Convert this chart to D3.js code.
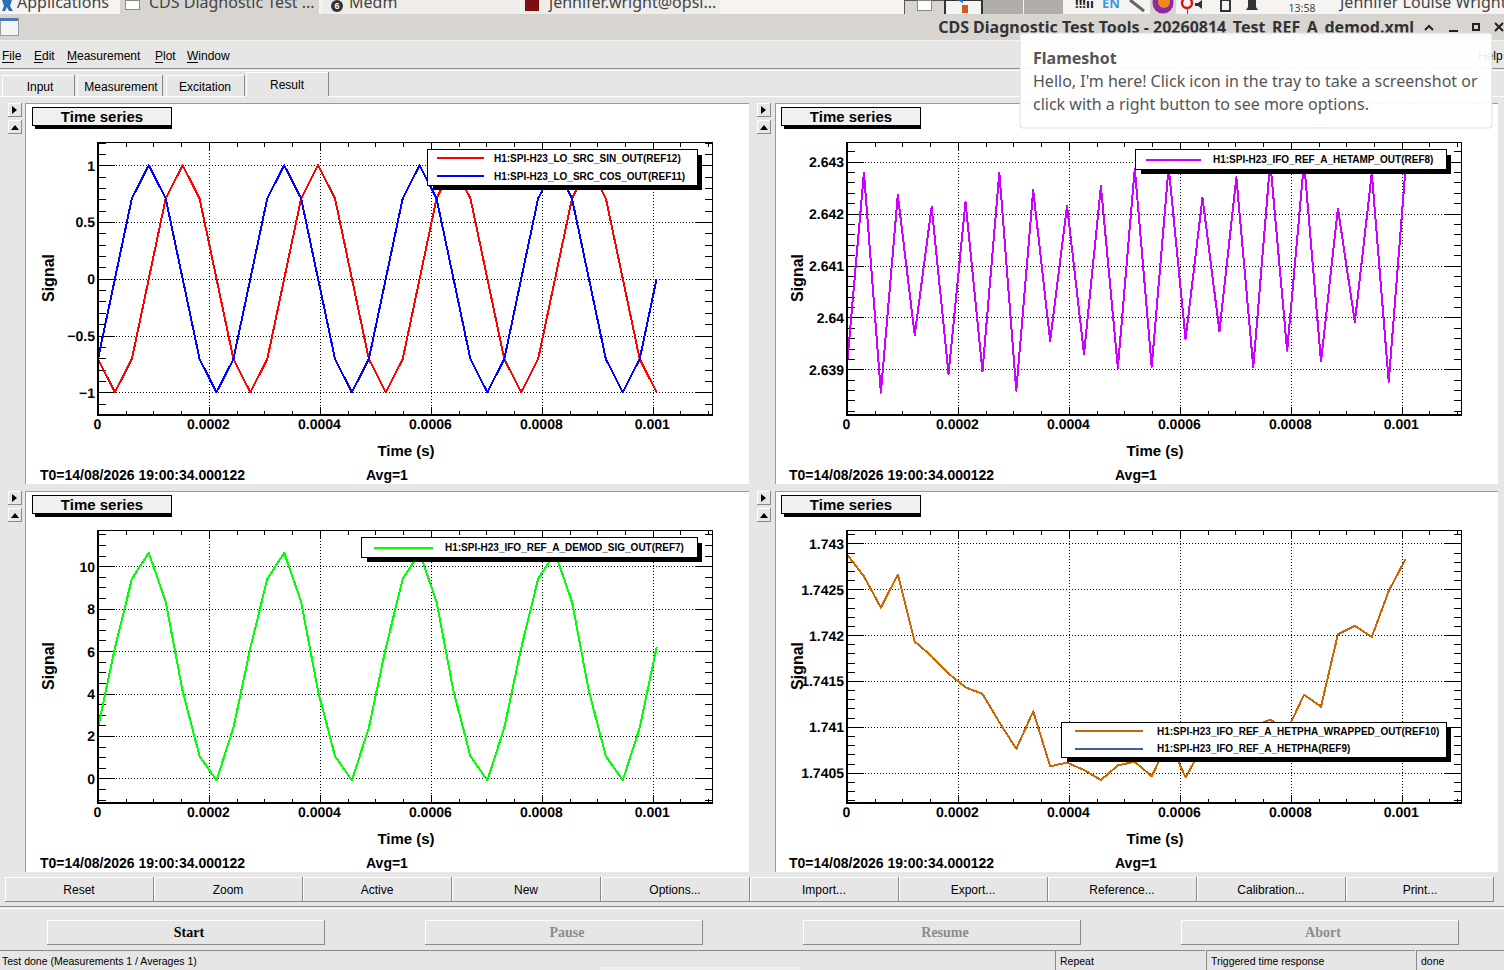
<!DOCTYPE html>
<html><head><meta charset="utf-8">
<script src="https://cdnjs.cloudflare.com/ajax/libs/d3/7.8.5/d3.min.js"></script>
<style>
html,body{margin:0;padding:0;background:#e6e6e6;overflow:hidden}
svg{display:block}
text{font-family:"Liberation Sans",Arial,sans-serif}
.domain{display:none}
</style></head><body><svg id="c" width="1504" height="970"></svg>
<script>
const sinOut=[-0.707,-1,-0.707,0,0.707,1,0.707,0,-0.707,-1,-0.707,0,0.707,1,0.707,0,-0.707,-1,-0.707,0,0.707,1,0.707,0,-0.707,-1,-0.707,0,0.707,1,0.707,0,-0.707,-1];
const cosOut=[-0.707,0,0.707,1,0.707,0,-0.707,-1,-0.707,0,0.707,1,0.707,0,-0.707,-1,-0.707,0,0.707,1,0.707,0,-0.707,-1,-0.707,0,0.707,1,0.707,0,-0.707,-1,-0.707,0];
const hetAmp=[2.63908,2.64279,2.63855,2.64236,2.63966,2.64213,2.63891,2.64223,2.63896,2.64279,2.63859,2.64245,2.63955,2.64215,2.6393,2.64253,2.63903,2.64287,2.63905,2.6429,2.63958,2.64231,2.63973,2.6427,2.63904,2.643,2.63936,2.643,2.63915,2.6421,2.63991,2.64278,2.63876,2.6429];
const demodSig=[2.39,6.15,9.4,10.63,8.32,4.11,1.05,-0.09,2.39,6.15,9.4,10.63,8.32,4.11,1.05,-0.09,2.39,6.15,9.4,10.63,8.32,4.11,1.05,-0.09,2.39,6.15,9.4,10.63,8.32,4.11,1.05,-0.09,2.39,6.18];
const hetPhaWrapped=[1.74288,1.74264,1.7423,1.74266,1.74193,1.74177,1.74158,1.74143,1.74136,1.74105,1.74076,1.74117,1.74057,1.74061,1.74053,1.74042,1.74058,1.74062,1.74046,1.74085,1.74045,1.74078,1.7408,1.7409,1.741,1.74108,1.74096,1.74135,1.74122,1.74201,1.7421,1.74198,1.74248,1.74283];
const hetPha=hetPhaWrapped.slice();
const sampleStep=0.001007/33;
const xTicks=[0,0.0002,0.0004,0.0006,0.0008,0.001];
const xTickLabels=["0","0.0002","0.0004","0.0006","0.0008","0.001"];
const xMinor=[0.00005,0.0001,0.00015,0.00025,0.0003,0.00035,0.00045,0.0005,0.00055,0.00065,0.0007,0.00075,0.00085,0.0009,0.00095,0.00105,0.0011];
const yTicks1=[-1,-0.5,0,0.5,1], yLabels1=["\u22121","\u22120.5","0","0.5","1"];
const yTicks2=[2.639,2.64,2.641,2.642,2.643], yLabels2=["2.639","2.64","2.641","2.642","2.643"];
const yTicks3=[0,2,4,6,8,10], yLabels3=["0","2","4","6","8","10"];
const yTicks4=[1.7405,1.741,1.7415,1.742,1.7425,1.743], yLabels4=["1.7405","1.741","1.7415","1.742","1.7425","1.743"];
const menuItems=["File","Edit","Measurement","Plot","Window"];
const tabs=["Input","Measurement","Excitation","Result"];
const btnLabels=["Reset","Zoom","Active","New","Options...","Import...","Export...","Reference...","Calibration...","Print..."];
const runLabels=["Start","Pause","Resume","Abort"];
const T0="T0=14/08/2026 19:00:34.000122";

const svg=d3.select("#c");
function rect(p,x,y,w,h,f,s,sw){return p.append("rect").attr("x",x).attr("y",y).attr("width",w).attr("height",h).attr("fill",f||"none").attr("stroke",s||"none").attr("stroke-width",sw||1).attr("shape-rendering","crispEdges");}
function text(p,x,y,t,size,o={}){return p.append("text").attr("x",x).attr("y",y).attr("font-size",size).attr("fill",o.fill||"#000").attr("font-weight",o.weight||"normal").attr("text-anchor",o.anchor||"start").style("font-family",o.font||null).text(t);}
function hline(p,x1,x2,y,c){p.append("line").attr("x1",x1).attr("x2",x2).attr("y1",y).attr("y2",y).attr("stroke",c).attr("shape-rendering","crispEdges");}
function vline(p,x,y1,y2,c){p.append("line").attr("x1",x).attr("x2",x).attr("y1",y1).attr("y2",y2).attr("stroke",c).attr("shape-rendering","crispEdges");}
function bevel(p,x,y,w,h){rect(p,x,y,w,h,"#e6e6e6");hline(p,x,x+w,y+.5,"#fff");vline(p,x+.5,y,y+h,"#fff");hline(p,x,x+w,y+h-.5,"#8a8a8a");vline(p,x+w-.5,y,y+h,"#8a8a8a");}

/* desktop chrome */
rect(svg,0,0,1504,14,"#f5f4f2");
const sans='"Noto Sans",sans-serif';
rect(svg,120,0,199,15,"#d8d5d1");rect(svg,322,0,198,15,"#efedea");rect(svg,522,0,198,15,"#efedea");
svg.append("path").attr("d","M2 0h10l-2 6 3 5h-4l-2-4-2 4h-3l2-5z").attr("fill","#2a6fb0");
text(svg,17,8,"Applications",16,{fill:"#444",font:sans});
rect(svg,125,0,14,9,"#fff","#888");
text(svg,149,8,"CDS Diagnostic Test ...",16,{fill:"#444",font:sans});
svg.append("circle").attr("cx",337).attr("cy",6).attr("r",6).attr("fill","#333");
text(svg,337,9,"6",9,{fill:"#fff",anchor:"middle",weight:"bold"});
text(svg,349,8,"Medm",16,{fill:"#444",font:sans});
rect(svg,525,0,14,11,"#7a1010");
text(svg,549,8,"jennifer.wright@opsl...",16,{fill:"#444",font:sans});
rect(svg,904,0,40,15,"#d8d5d1","#555");rect(svg,917,0,14,10,"#fff","#888");
rect(svg,945,0,37,15,"#f4f4f4","#333",1.5);
svg.append("path").attr("d","M957 0h6v3z").attr("fill","#1f6fc0");rect(svg,962,5,6,8,"#d8581c");
rect(svg,983,0,40,15,"#b0aea9");rect(svg,1024,0,39,15,"#b0aea9");
text(svg,1075,8,"!!!\u0131\u0131",13,{fill:"#222",font:sans,weight:"bold"});
text(svg,1102,8,"EN",13,{fill:"#3b97dc",font:sans,weight:"bold"});
svg.append("path").attr("d","M1130 0l14 11").attr("stroke","#666").attr("stroke-width",3).attr("fill","none");
rect(svg,1150,0,26,14,"#d8d5d1");
svg.append("circle").attr("cx",1163).attr("cy",3).attr("r",10.5).attr("fill","#8e2aa0");
svg.append("circle").attr("cx",1164).attr("cy",2).attr("r",6).attr("fill","#f08a20");
svg.append("circle").attr("cx",1187).attr("cy",3).attr("r",5).attr("fill","none").attr("stroke","#d01818").attr("stroke-width",2.5);
vline(svg,1187,8,14,"#d01818");
svg.append("path").attr("d","M1195 3h3l4-3v9l-4-3h-3z").attr("fill","#333");
rect(svg,1221,0,9,11,"none","#333",1.5);
svg.append("path").attr("d","M1246 10h12l-2-3v-7h-8v7z").attr("fill","#333");
text(svg,1302,12,"13:58",10.5,{fill:"#444",anchor:"middle",font:sans});
text(svg,1340,8,"Jennifer Louise Wright",16,{fill:"#444",font:sans});
rect(svg,0,14,1504,26,"#d8d5d1");
hline(svg,0,1504,40.5,"#f4f4f4");
rect(svg,0,18,18,17,"#f4f4f4","#999");rect(svg,0,18,18,3,"#4a78b0");
text(svg,1414,33,"CDS Diagnostic Test Tools - 20260814_Test_REF_A_demod.xml",16,{fill:"#333",weight:"bold",anchor:"end",font:sans});
svg.append("path").attr("d","M1425 30l4-4 4 4").attr("fill","none").attr("stroke","#222").attr("stroke-width",2);
rect(svg,1449,30,9,2,"#222");rect(svg,1473,24,6,6,"none","#222",2);
svg.append("path").attr("d","M1495 23l8 8M1503 23l-8 8").attr("stroke","#222").attr("stroke-width",2);

/* menu and tabs */
hline(svg,0,1504,68.5,"#8a8a8a");hline(svg,0,1504,70.5,"#fff");
const menuX=[2,34,67,155,187];
menuItems.forEach((m,i)=>{text(svg,menuX[i],60,m,12);});
[[2,14,6.5],[34,42.5,7],[67,77,9],[155,163,6.5],[187,198,10]].forEach(d=>hline(svg,d[0],d[1],62.5,"#000"));
text(svg,1478,60,"Help",12,{fill:"#000"});
const tabX=[[2,75],[77,163],[166,245],[246,329]];
tabs.forEach((t,i)=>{const [a,b]=tabX[i];const top=i==3?72:75;
 hline(svg,a,b,top+.5,"#fff");vline(svg,a+.5,top,96,"#fff");vline(svg,b-.5,top,96,"#8a8a8a");
 text(svg,i==0?40:i==1?121:i==2?205:287,i==3?89:91,t,12,{anchor:"middle"});});
hline(svg,0,246,96.5,"#fff");hline(svg,329,1504,96.5,"#fff");

/* panels */
const panels=[
 {ox:0,oy:0,pw:724,series:[{v:sinOut,c:"#ff0000",n:"H1:SPI-H23_LO_SRC_SIN_OUT(REF12)"},{v:cosOut,c:"#0000ff",n:"H1:SPI-H23_LO_SRC_COS_OUT(REF11)"}],
  dom:[-1.2,1.2],yt:yTicks1,yl:yLabels1,minorStep:0.1,leg:[427.5,149.5,270,36],ls:[437,484],tx:494},
 {ox:749,oy:0,pw:723,series:[{v:hetAmp,c:"#cc00ff",n:"H1:SPI-H23_IFO_REF_A_HETAMP_OUT(REF8)"}],
  dom:[2.63812,2.64337],yt:yTicks2,yl:yLabels2,minorStep:0.0002,leg:[1135.5,149.5,311,20],ls:[1146,1201],tx:1213},
 {ox:0,oy:388,pw:724,series:[{v:demodSig,c:"#00ff00",n:"H1:SPI-H23_IFO_REF_A_DEMOD_SIG_OUT(REF7)"}],
  dom:[-1.158,11.68],yt:yTicks3,yl:yLabels3,minorStep:0.5,leg:[361.5,537.5,336,20],ls:[374,433],tx:445},
 {ox:749,oy:388,pw:723,series:[{v:hetPha,c:"#3f5f9f",n:"H1:SPI-H23_IFO_REF_A_HETPHA(REF9)"},{v:hetPhaWrapped,c:"#cc6600",n:"H1:SPI-H23_IFO_REF_A_HETPHA_WRAPPED_OUT(REF10)"}],
  dom:[1.74017,1.74314],yt:yTicks4,yl:yLabels4,minorStep:0.0001,leg:[1061.5,722.5,385,35],ls:[1075,1143],tx:1157,legendOrder:[1,0]}
];
const W=614.5,H=272.5,xDom=[0,0.0011077];
panels.forEach(P=>{
 const g=svg.append("g");
 const ox=P.ox, oy=P.oy, px=ox>0?775:25, py=oy+103;
 rect(g,px,py,P.pw,381,"#fff");
 hline(g,px,px+P.pw,py+.5,"#9a9a9a");vline(g,px+.5,py,py+381,"#9a9a9a");
 [[ox+8,oy+103,"M12 3v8l5-4z"],[ox+8,oy+120,"M11 10h8l-4-5z"]].forEach(b=>{
  bevel(g,b[0],b[1],14,14);
  g.append("path").attr("d",b[2]).attr("transform",`translate(${ox},${b[1]})`).attr("fill","#000");});
 rect(g,ox+35,oy+110,137,19,"#000");
 rect(g,ox+32.5,oy+107.5,139,18,"#f0f0f0","#000",1.5);
 text(g,ox+102,oy+122,"Time series",15,{weight:"bold",anchor:"middle"});

 const L=ox+98,T=oy+142.5;
 const x=d3.scaleLinear().domain(xDom).range([0,W]);
 const y=d3.scaleLinear().domain(P.dom).range([H,0]);
 const plot=g.append("g").attr("transform",`translate(${L},${T})`).attr("shape-rendering","crispEdges");
 const yMinor=d3.range(Math.ceil(P.dom[0]/P.minorStep-1e-6),Math.floor(P.dom[1]/P.minorStep+1e-6)+1).map(k=>+(k*P.minorStep).toFixed(6));
 // grid
 const gx=plot.append("g").attr("transform",`translate(0,${H})`).call(d3.axisBottom(x).tickValues(xTicks).tickSize(-H).tickFormat(""));
 const gy=plot.append("g").call(d3.axisLeft(y).tickValues(P.yt).tickSize(-W).tickFormat(""));
 [gx,gy].forEach(s=>s.selectAll("line").attr("stroke-dasharray","1 2").attr("stroke","#000"));
 // ticks on all sides
 const tk=(ax,tr)=>{const s=plot.append("g").attr("transform",tr).call(ax);s.selectAll("line").attr("stroke","#000");return s;};
 tk(d3.axisBottom(x).tickValues(xTicks).tickSize(-8).tickFormat(""),`translate(0,${H})`);
 tk(d3.axisBottom(x).tickValues(xMinor).tickSize(-4).tickFormat(""),`translate(0,${H})`);
 tk(d3.axisTop(x).tickValues(xTicks).tickSize(-8).tickFormat(""),`translate(0,0)`);
 tk(d3.axisTop(x).tickValues(xMinor).tickSize(-4).tickFormat(""),`translate(0,0)`);
 tk(d3.axisLeft(y).tickValues(P.yt).tickSize(-16.5).tickFormat(""),`translate(0,0)`);
 tk(d3.axisLeft(y).tickValues(yMinor).tickSize(-8).tickFormat(""),`translate(0,0)`);
 tk(d3.axisRight(y).tickValues(P.yt).tickSize(-16.5).tickFormat(""),`translate(${W},0)`);
 tk(d3.axisRight(y).tickValues(yMinor).tickSize(-8).tickFormat(""),`translate(${W},0)`);
 // series
 const line=d3.line().x((d,i)=>x(i*sampleStep)).y(d=>y(d));
 P.series.forEach(s=>{plot.append("path").datum(s.v).attr("d",line).attr("fill","none").attr("stroke",s.c).attr("stroke-width",2).attr("stroke-linejoin","round");});
 // frame
 rect(plot,0,0,W,H,"none","#000",1.3);
 // labels via axes
 const lx=plot.append("g").attr("transform",`translate(-1,${H-1})`).call(d3.axisBottom(x).tickValues(xTicks).tickSize(0).tickPadding(5).tickFormat((d,i)=>xTickLabels[i]));
 const ly=plot.append("g").attr("transform","translate(0,0.5)").call(d3.axisLeft(y).tickValues(P.yt).tickSize(0).tickPadding(3).tickFormat((d,i)=>P.yl[i]));
 [lx,ly].forEach(s=>s.selectAll("text").attr("font-size",14).attr("font-weight","bold").attr("fill","#000").style("font-family",'"Liberation Sans",Arial,sans-serif').attr("text-rendering","geometricPrecision"));
 text(g,ox+406,oy+456,"Time (s)",15,{weight:"bold",anchor:"middle"});
 g.append("text").attr("transform",`translate(${ox+53.5},${oy+278}) rotate(-90)`).attr("text-anchor","middle").attr("font-size",16).attr("font-weight","bold").text("Signal");
 text(g,ox+40,oy+480,T0,14,{weight:"bold"});
 text(g,ox+366,oy+480,"Avg=1",14,{weight:"bold"});
 // legend
 const [lgx,lgy,lgw,lgh]=P.leg;
 rect(g,lgx+5,lgy+5,lgw-1,lgh-1,"#000");
 rect(g,lgx,lgy,lgw,lgh,"#fff","#000",1.3);
 const order=P.legendOrder?P.legendOrder.map(i=>P.series[i]):P.series;
 order.forEach((s,i)=>{
  const ly0=order.length==1?lgy+10:lgy+8.5+i*(lgh>35.5?18:17.5);
  g.append("line").attr("x1",P.ls[0]).attr("x2",P.ls[1]).attr("y1",ly0).attr("y2",ly0).attr("stroke",s.c).attr("stroke-width",2).attr("shape-rendering","crispEdges");
  text(g,P.tx,ly0+3.5,s.n,10,{weight:"bold"});
 });
});

/* Flameshot notification */
rect(svg,1020,33,472,95,"#ffffff").attr("fill-opacity",.93).attr("rx",3).attr("stroke","#dddddd").attr("shape-rendering","auto");
text(svg,1033,64,"Flameshot",16,{fill:"#555",weight:"bold",font:sans});
text(svg,1033,87,"Hello, I'm here! Click icon in the tray to take a screenshot or",16,{fill:"#555",font:sans});
text(svg,1033,110,"click with a right button to see more options.",16,{fill:"#555",font:sans});

/* bottom buttons */
const btnX=[5,154,303,452,601,750,899,1048,1197,1346];
btnLabels.forEach((b,i)=>{bevel(svg,btnX[i],877,i==9?148:149,25);text(svg,btnX[i]+74,894,b,12,{anchor:"middle"});});
hline(svg,0,1504,906.5,"#8a8a8a");hline(svg,0,1504,908.5,"#fff");
const runX=[47,425,803,1181];
runLabels.forEach((r,i)=>{bevel(svg,runX[i],920,278,25);
 text(svg,runX[i]+142,937,r,14,{anchor:"middle",weight:"bold",fill:i==0?"#000":"#8c8c8c",font:'"Liberation Serif",serif'});});
hline(svg,0,1055,950.5,"#8a8a8a");
[[1055,1205],[1206,1415],[1416,1504]].forEach(d=>{hline(svg,d[0],d[1],950.5,"#8a8a8a");vline(svg,d[0]+.5,951,970,"#8a8a8a");});
text(svg,2,965,"Test done (Measurements 1 / Averages 1)",10.5);
text(svg,1060,965,"Repeat",10.5);
text(svg,1211,965,"Triggered time response",10.5);
text(svg,1421,965,"done",10.5);
rect(svg,600,967,200,3,"#efefef");
</script></body></html>
